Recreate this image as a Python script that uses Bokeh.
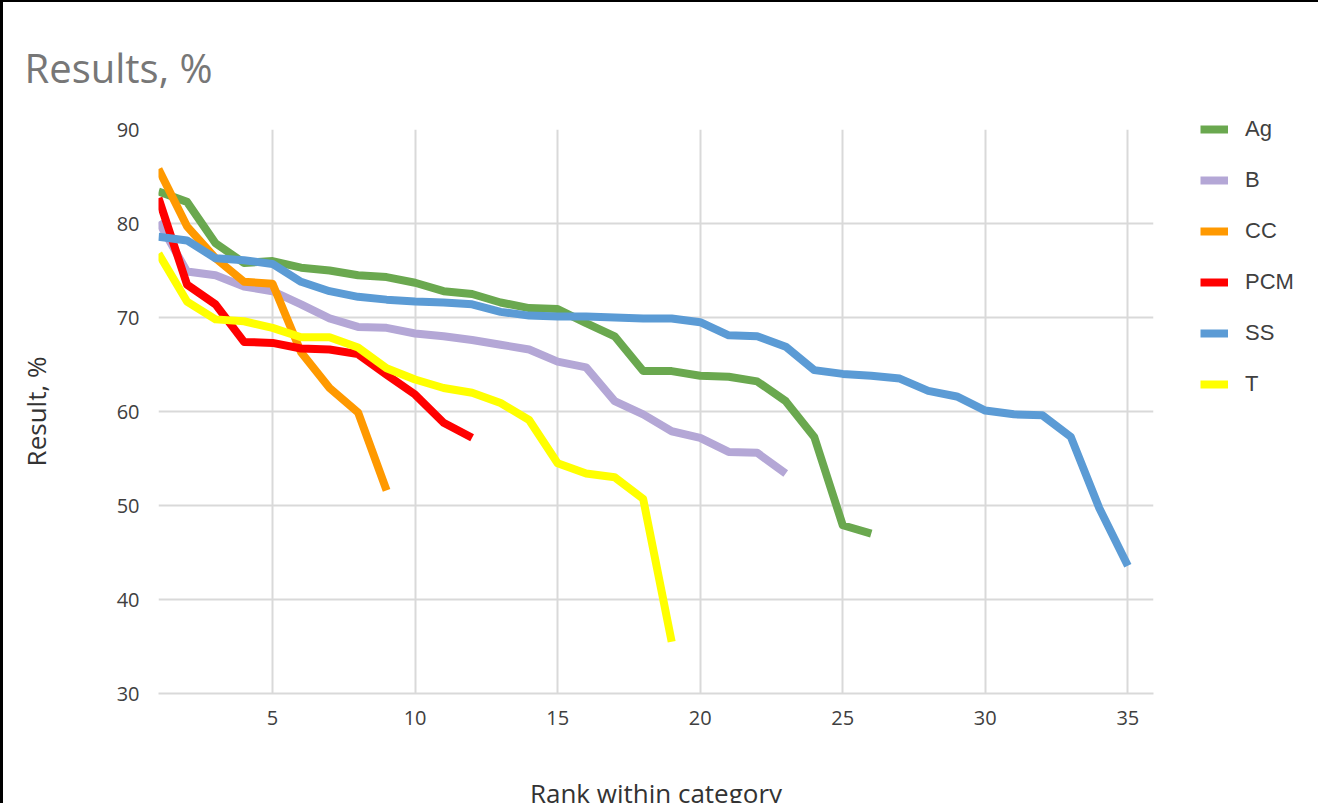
from bokeh.plotting import figure
from bokeh.models import Range1d, FixedTicker, Legend, LegendItem, Title
from bokeh.embed import file_html
from bokeh.resources import INLINE

series_names = ["Ag", "B", "CC", "PCM", "SS", "T"]
ag = [83.4, 82.3, 77.9, 75.8, 76.0, 75.3, 75.0, 74.5, 74.3, 73.7, 72.8, 72.5, 71.6,
      71.0, 70.9, 69.4, 68.0, 64.3, 64.3, 63.8, 63.7, 63.2, 61.1, 57.3, 47.9, 47.0]
b = [80.2, 74.9, 74.5, 73.3, 72.8, 71.4, 69.9, 69.0, 68.9, 68.3, 68.0, 67.6, 67.1,
     66.6, 65.3, 64.7, 61.1, 59.7, 57.9, 57.2, 55.7, 55.6, 53.4]
cc = [85.8, 79.7, 76.3, 73.8, 73.6, 66.3, 62.5, 59.9, 51.6]
pcm = [82.7, 73.5, 71.4, 67.4, 67.3, 66.7, 66.6, 66.1, 63.9, 61.8, 58.8, 57.2]
ss = [78.6, 78.2, 76.3, 76.1, 75.7, 73.8, 72.8, 72.2, 71.9, 71.7, 71.6, 71.4, 70.6,
      70.2, 70.1, 70.1, 70.0, 69.9, 69.9, 69.5, 68.1, 68.0, 66.9, 64.4, 64.0, 63.8,
      63.5, 62.2, 61.6, 60.1, 59.7, 59.6, 57.3, 49.7, 43.6]
t = [76.8, 71.7, 69.8, 69.6, 68.9, 67.9, 67.9, 66.8, 64.6, 63.4, 62.5, 62.0, 60.9,
     59.1, 54.5, 53.4, 53.0, 50.7, 35.5]
x_ticks = [5, 10, 15, 20, 25, 30, 35]
y_ticks = [30, 40, 50, 60, 70, 80, 90]

colors = ["#6AA84F", "#B4A7D6", "#FF9900", "#FF0000", "#5B9BD5", "#FFFF00"]
all_series = [ag, b, cc, pcm, ss, t]
FONT = "Open Sans"

p = figure(width=1304, height=800, frame_width=995, frame_height=564,
           output_backend="svg", toolbar_location=None,
           x_range=Range1d(1, 35.9), y_range=Range1d(30, 90),
           min_border_left=155, min_border_right=154, min_border_top=116,
           min_border_bottom=120, background_fill_color="white",
           border_fill_color="white")
p.styles = {"border-top": "2px solid black", "border-left": "3px solid black",
            "border-right": "3px solid black", "box-sizing": "content-box"}
p.outline_line_color = None

items = []
for name, vals, col in zip(series_names, all_series, colors):
    xs = list(range(1, len(vals) + 1))
    r = p.line(xs, vals, line_color=col, line_width=8, line_join="round")
    items.append(LegendItem(label=name, renderers=[r]))

p.xaxis.ticker = FixedTicker(ticks=x_ticks)
p.yaxis.ticker = FixedTicker(ticks=y_ticks)
p.xgrid.ticker = FixedTicker(ticks=x_ticks)
p.ygrid.ticker = FixedTicker(ticks=y_ticks)
p.xgrid.grid_line_color = "#D9D9D9"
p.ygrid.grid_line_color = "#D9D9D9"
p.xgrid.grid_line_width = 2
p.ygrid.grid_line_width = 2

for ax in (p.xaxis, p.yaxis):
    ax.major_tick_line_color = None
    ax.minor_tick_line_color = None
    ax.major_label_text_font = FONT
    ax.major_label_text_font_size = "20px"
    ax.major_label_text_color = "#404040"
    ax.axis_label_text_font = FONT
    ax.axis_label_text_font_size = "26px"
    ax.axis_label_text_font_style = "normal"
    ax.axis_label_text_color = "#333333"

p.xaxis.axis_line_color = "#D9D9D9"
p.xaxis.axis_line_width = 2
p.yaxis.axis_line_color = None
p.xaxis.major_label_standoff = 11
p.yaxis.major_label_standoff = 13
p.xaxis.axis_label = "Rank within category"
p.yaxis.axis_label = "Result, %"
p.xaxis.axis_label_standoff = 47
p.yaxis.axis_label_standoff = 60

legend = Legend(items=items, location=(47, 296), orientation="vertical",
                glyph_width=28, glyph_height=26, label_height=26,
                label_standoff=17, spacing=25, padding=0, margin=0,
                border_line_color=None, background_fill_alpha=0,
                label_text_font="Liberation Sans", label_text_font_size="22px",
                label_text_color="#404040")
p.add_layout(legend, "right")

p.title = Title(text="Results, %", align="left", offset=-134, standoff=70,
                text_font=FONT, text_font_size="40px", text_font_style="normal",
                text_color="#777777")

open("out.html", "w").write(file_html(p, INLINE))
